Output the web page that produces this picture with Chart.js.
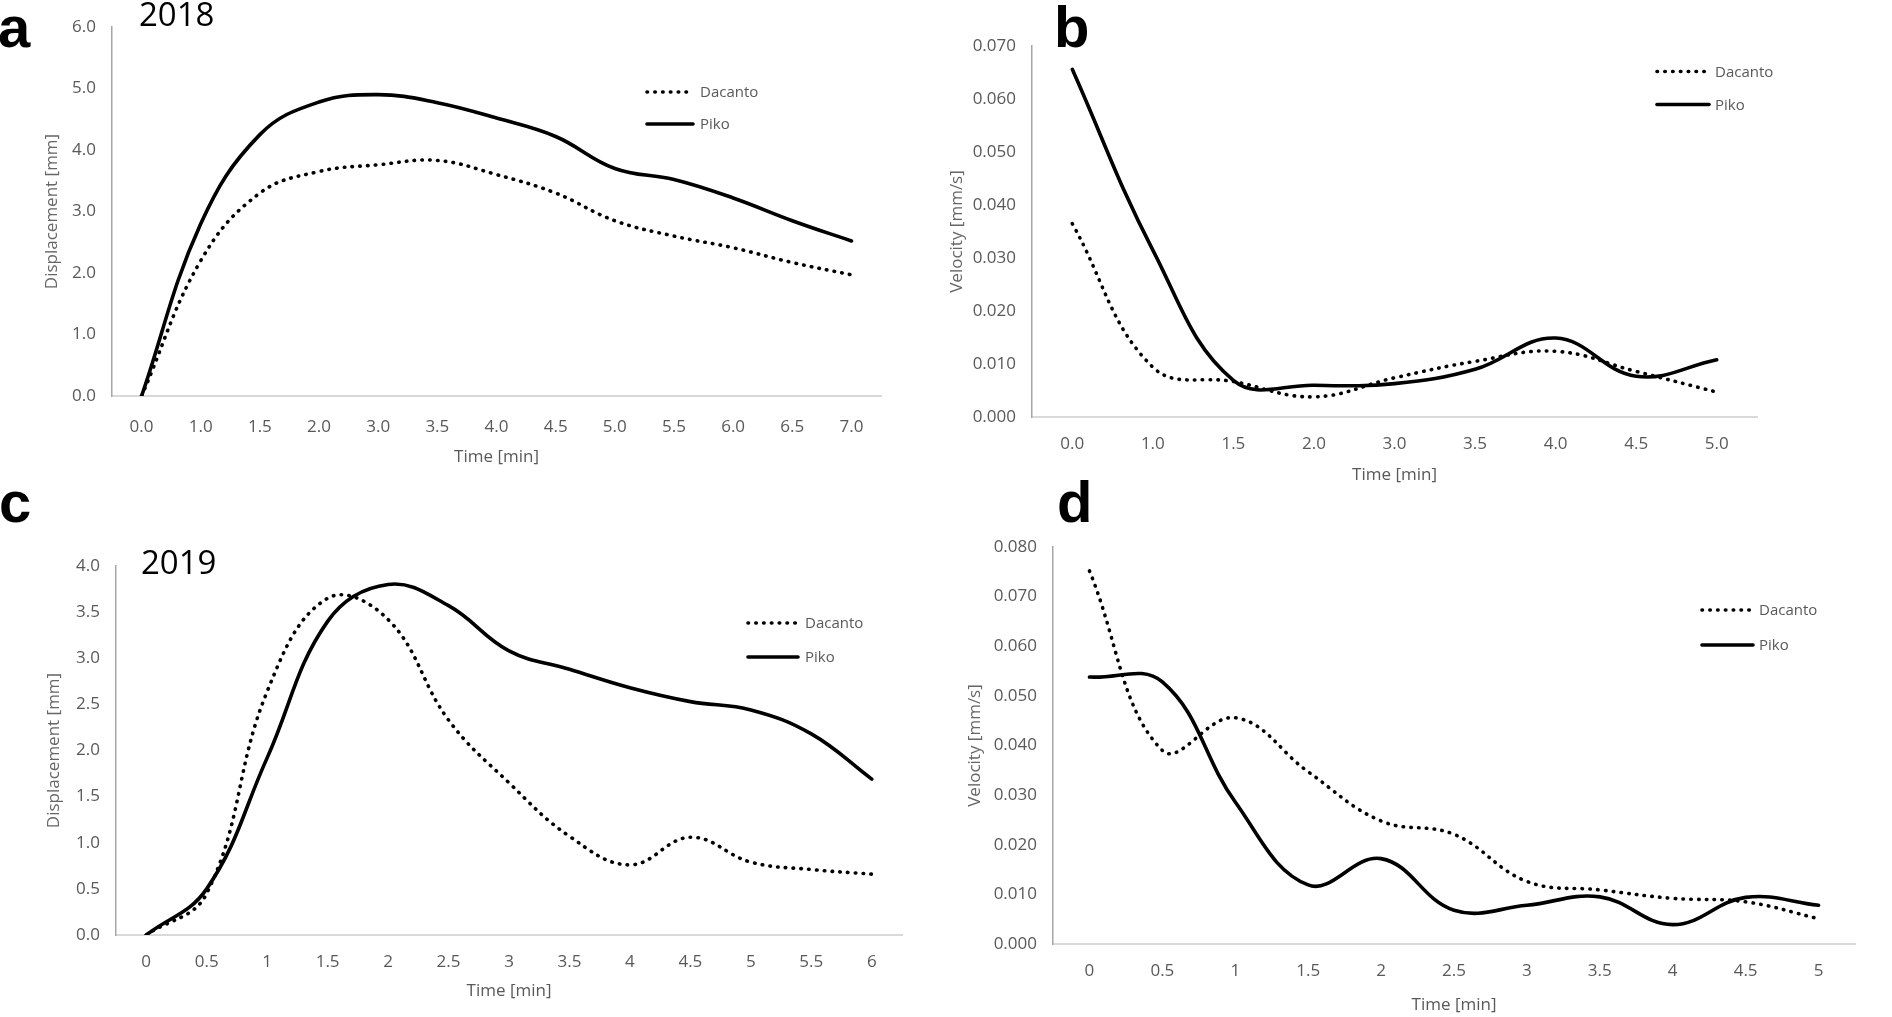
<!DOCTYPE html>
<html>
<head>
<meta charset="utf-8">
<script src="https://cdn.jsdelivr.net/npm/chart.js@4.4.1/dist/chart.umd.min.js"></script>
<style>
  html, body { margin: 0; padding: 0; background: #fff; }
  #wrap { position: relative; width: 1892px; height: 1017px; overflow: hidden; }
  canvas { position: absolute; }
  .tag { position: absolute; font-family: "Liberation Sans", Arial, sans-serif; font-weight: bold; font-size: 58px; line-height: 58px; color: #000; }
  .year { position: absolute; font-family: "Open Sans", sans-serif; font-size: 33px; line-height: 33px; color: #000; }
</style>
</head>
<body>
<div id="wrap">
  <canvas id="chartA"></canvas>
  <canvas id="chartB"></canvas>
  <canvas id="chartC"></canvas>
  <canvas id="chartD"></canvas>
  <div class="tag" style="left:-2px; top:-2px;">a</div>
  <div class="tag" style="left:1054px; top:-2px;">b</div>
  <div class="tag" style="left:-1px; top:473px;">c</div>
  <div class="tag" style="left:1057px; top:473px;">d</div>
  <div class="year" style="left:139px; top:-3px;">2018</div>
  <div class="year" style="left:141px; top:545px;">2019</div>
</div>
<script>
// Panel a - displacement 2018
const timeA = ['0.0', '1.0', '1.5', '2.0', '3.0', '3.5', '4.0', '4.5', '5.0', '5.5', '6.0', '6.5', '7.0'];
const dacantoA = [0, 2.2, 3.3, 3.65, 3.76, 3.83, 3.6, 3.3, 2.85, 2.6, 2.41, 2.17, 1.97];
const pikoA = [0, 2.8, 4.25, 4.78, 4.9, 4.77, 4.52, 4.22, 3.7, 3.52, 3.22, 2.85, 2.52];

// Panel b - velocity 2018
const timeB = ['0.0', '1.0', '1.5', '2.0', '3.0', '3.5', '4.0', '4.5', '5.0'];
const dacantoB = [0.0365, 0.0094, 0.0067, 0.0038, 0.0074, 0.0105, 0.0124, 0.0086, 0.0047];
const pikoB = [0.0656, 0.0315, 0.0069, 0.006, 0.0063, 0.009, 0.0149, 0.0077, 0.0108];

// Panel c - displacement 2019
const timeC = ['0', '0.5', '1', '1.5', '2', '2.5', '3', '3.5', '4', '4.5', '5', '5.5', '6'];
const dacantoC = [0, 0.45, 2.64, 3.65, 3.42, 2.33, 1.65, 1.07, 0.76, 1.06, 0.79, 0.71, 0.66];
const pikoC = [0, 0.5, 1.92, 3.4, 3.8, 3.57, 3.08, 2.88, 2.68, 2.53, 2.44, 2.18, 1.69];

// Panel d - velocity 2019
const timeD = ['0', '0.5', '1', '1.5', '2', '2.5', '3', '3.5', '4', '4.5', '5'];
const dacantoD = [0.0752, 0.039, 0.0456, 0.0347, 0.0248, 0.0221, 0.0126, 0.0109, 0.0092, 0.0085, 0.0051];
const pikoD = [0.0538, 0.0528, 0.0286, 0.0119, 0.0172, 0.0068, 0.0078, 0.0095, 0.0039, 0.0094, 0.0078];

Chart.defaults.font.family = '"Open Sans", sans-serif';
Chart.defaults.color = '#595959';

const TICK = 17;
const LH = TICK * 1.2;

// legend drawn inside the plot, line sample + name
const insetLegend = {
    id: 'insetLegend',
    afterDraw(chart, args, opts) {
        const ctx = chart.ctx;
        chart.data.datasets.forEach((ds, i) => {
            const y = opts.y + i * opts.gap;
            ctx.save();
            ctx.strokeStyle = ds.borderColor;
            ctx.lineWidth = ds.borderWidth;
            ctx.lineCap = ds.borderCapStyle;
            ctx.setLineDash(ds.borderDash || []);
            ctx.beginPath();
            ctx.moveTo(opts.x, y);
            ctx.lineTo(opts.x + opts.len, y);
            ctx.stroke();
            ctx.setLineDash([]);
            ctx.fillStyle = '#595959';
            ctx.font = '15px "Open Sans", sans-serif';
            ctx.textBaseline = 'middle';
            ctx.fillText(ds.label, opts.textX, y + 1);
            ctx.restore();
        });
    }
};

function makePanel(id, box, area, p) {
    const canvas = document.getElementById(id);
    canvas.width = box.w;
    canvas.height = box.h;
    canvas.style.left = box.x + 'px';
    canvas.style.top = box.y + 'px';

    const xAxisH = box.y + box.h - area.bottom;

    return new Chart(canvas, {
        type: 'line',
        data: {
            labels: p.labels,
            datasets: [{
                label: 'Dacanto',
                data: p.dacanto,
                borderColor: '#000',
                borderWidth: 3.6,
                borderDash: [0.5, 7.3],
                borderCapStyle: 'round',
                pointRadius: 0,
                tension: 0.4,
            }, {
                label: 'Piko',
                data: p.piko,
                borderColor: '#000',
                borderWidth: 3.6,
                borderCapStyle: 'round',
                borderJoinStyle: 'round',
                pointRadius: 0,
                tension: 0.4,
            }]
        },
        options: {
            responsive: false,
            animation: false,
            layout: {
                padding: {
                    left: 0,
                    top: area.top - box.y,
                    right: box.x + box.w - area.right,
                    bottom: 0,
                },
            },
            scales: {
                x: {
                    type: 'category',
                    offset: true,
                    grid: { display: false, drawTicks: false },
                    border: { display: true, color: '#d9d9d9', width: 2 },
                    ticks: {
                        autoSkip: false,
                        maxRotation: 0,
                        padding: p.xLabelY - area.bottom - LH / 2,
                        font: { size: TICK },
                        color: '#595959',
                    },
                    title: {
                        display: true,
                        text: 'Time [min]',
                        font: { size: TICK },
                        color: '#595959',
                        padding: { top: 0, bottom: box.y + box.h - p.xTitleY - LH / 2 },
                    },
                    afterFit(scale) { scale.height = xAxisH; },
                },
                y: {
                    min: 0,
                    max: p.max,
                    grid: { display: false, drawTicks: false },
                    border: { display: true, color: '#a6a6a6', width: 1.5 },
                    ticks: {
                        stepSize: p.step,
                        padding: 16,
                        font: { size: TICK },
                        color: '#595959',
                        callback: (v) => v.toFixed(p.digits),
                    },
                    title: {
                        display: true,
                        text: p.yTitle,
                        font: { size: TICK },
                        color: '#666666',
                        padding: { top: p.yTitleX - box.x - LH / 2, bottom: 0 },
                    },
                    afterFit(scale) { scale.width = area.left - box.x; },
                },
            },
            plugins: {
                legend: { display: false },
                tooltip: { enabled: false },
                insetLegend: {
                    x: p.legend.x - box.x,
                    len: p.legend.len,
                    textX: p.legend.textX - box.x,
                    y: p.legend.y - box.y,
                    gap: p.legend.gap,
                },
            },
        },
        plugins: [insetLegend],
    });
}

const chartA = makePanel('chartA',
    { x: 0, y: 0, w: 940, h: 490 },
    { left: 112, top: 27, right: 881, bottom: 396 },
    {
        labels: timeA, dacanto: dacantoA, piko: pikoA,
        max: 6, step: 1, digits: 1, yTitle: 'Displacement [mm]',
        xLabelY: 427, xTitleY: 457, yTitleX: 52,
        legend: { x: 647, len: 46, textX: 700, y: 92, gap: 32 },
    });

const chartB = makePanel('chartB',
    { x: 940, y: 0, w: 952, h: 490 },
    { left: 1032, top: 46, right: 1757, bottom: 417 },
    {
        labels: timeB, dacanto: dacantoB, piko: pikoB,
        max: 0.07, step: 0.01, digits: 3, yTitle: 'Velocity [mm/s]',
        xLabelY: 444, xTitleY: 475, yTitleX: 957,
        legend: { x: 1657, len: 52, textX: 1715, y: 71.5, gap: 33 },
    });

const chartC = makePanel('chartC',
    { x: 0, y: 490, w: 940, h: 527 },
    { left: 116, top: 566, right: 902, bottom: 935 },
    {
        labels: timeC, dacanto: dacantoC, piko: pikoC,
        max: 4, step: 0.5, digits: 1, yTitle: 'Displacement [mm]',
        xLabelY: 962, xTitleY: 991, yTitleX: 54,
        legend: { x: 748, len: 50, textX: 805, y: 623, gap: 34 },
    });

const chartD = makePanel('chartD',
    { x: 940, y: 490, w: 952, h: 527 },
    { left: 1053, top: 547, right: 1855, bottom: 944 },
    {
        labels: timeD, dacanto: dacantoD, piko: pikoD,
        max: 0.08, step: 0.01, digits: 3, yTitle: 'Velocity [mm/s]',
        xLabelY: 971, xTitleY: 1005, yTitleX: 975,
        legend: { x: 1702, len: 51, textX: 1759, y: 610, gap: 35 },
    });
</script>
</body>
</html>
